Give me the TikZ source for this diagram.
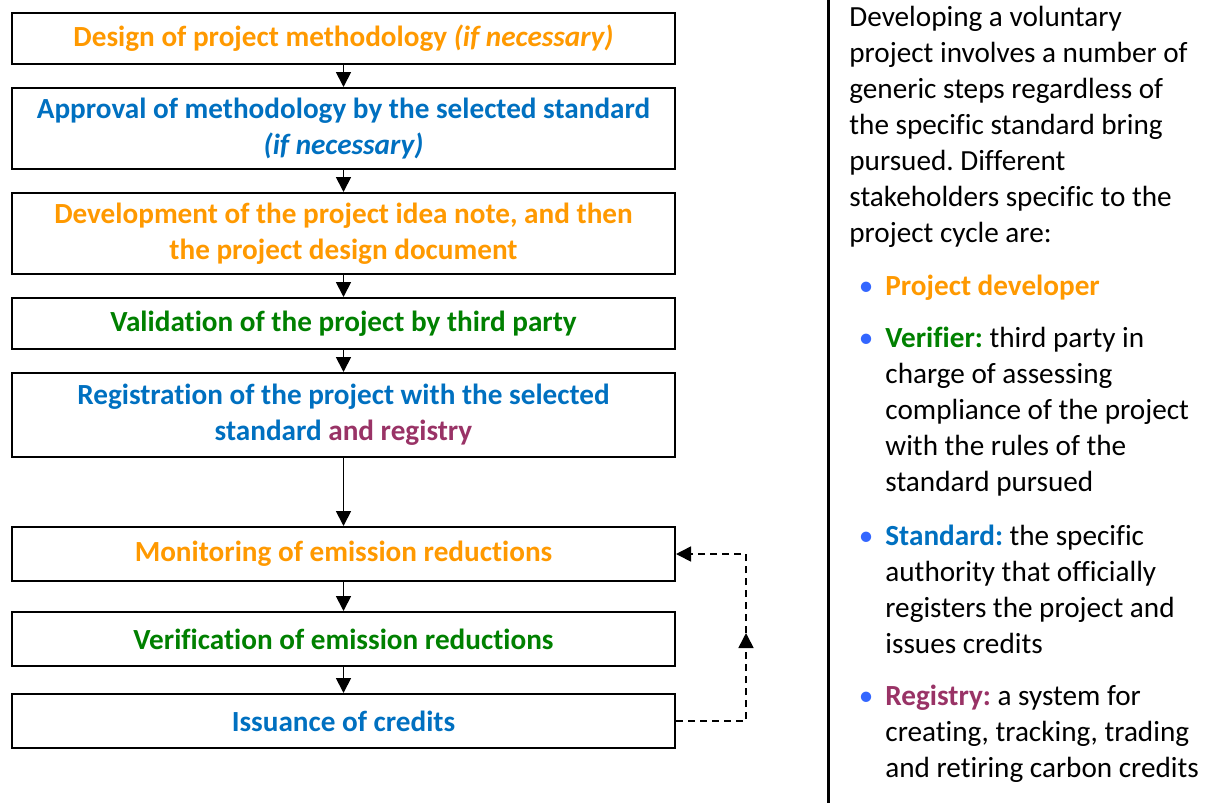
\documentclass[tikz,border=0pt]{standalone}
\usepackage{fontspec}
\setmainfont{Carlito}[Ligatures=NoCommon]
\frenchspacing
\usetikzlibrary{positioning, arrows.meta}
\definecolor{orng}{HTML}{FF9900}
\definecolor{stdblue}{HTML}{0070C0}
\definecolor{vgreen}{HTML}{008000}
\definecolor{regplum}{HTML}{993366}
\definecolor{dotblue}{HTML}{3366FF}
\newcommand{\itm}{\makebox[0pt][r]{\textcolor{dotblue}{\textbullet}\hspace{6pt}}}

\begin{document}
\begin{tikzpicture}[x=0.5pt, y=-0.5pt, node distance=11pt,
        box/.style={draw, line width=1pt, minimum width=331.5pt, minimum height=25.5pt, inner sep=0pt, align=center, font=\fontsize{14.6}{18}\selectfont\bfseries},
        tall/.style={box, minimum height=40.5pt},
        low/.style={box, minimum height=27pt},
        arr/.style={-{Triangle[length=7.5pt,width=7.5pt]}, line width=0.9pt},
        fb/.style={arr, line width=0.8pt, dash pattern=on 3.5pt off 2.5pt},
        side/.style={anchor=north west, inner sep=0pt, align=left, font=\fontsize{14.6}{18}\selectfont}]
        \useasboundingbox (0,0) rectangle (1224,803);

        \node[box, text=orng, anchor=north] at (343.5,12)   (step 1)  {Design of project methodology \textit{(if necessary)}};
        \node[tall, text=stdblue, below=of step 1]         (step 2)  {Approval of methodology by the selected standard\\\textit{(if necessary)}};
        \node[tall, text=orng, below=of step 2]            (step 3)  {Development of the project idea note, and then\\the project design document};
        \node[box, text=vgreen, below=of step 3]           (step 4)  {Validation of the project by third party};
        \node[tall, minimum height=42pt, text=stdblue, below=of step 4] (step 5) {Registration of the project with the selected\\standard \textcolor{regplum}{and registry}};
        \node[low, text=orng, below=34pt of step 5]        (step 6)  {Monitoring of emission reductions};
        \node[low, text=vgreen, below=14.5pt of step 6]    (step 7)  {Verification of emission reductions};
        \node[low, text=stdblue, below=13pt of step 7]     (step 8)  {Issuance of credits};
        \coordinate (turn) at (746,633);

        \draw[arr] (step 1) -- (step 2);
        \draw[arr] (step 2) -- (step 3);
        \draw[arr] (step 3) -- (step 4);
        \draw[arr] (step 4) -- (step 5);
        \draw[arr] (step 5) -- (step 6);
        \draw[arr] (step 6) -- (step 7);
        \draw[arr] (step 7) -- (step 8);
        \draw[fb] (step 8.east) -| (turn);
        \draw[fb] (turn) |- (step 6.east);

        \draw[line width=1.5pt] (828,0) -- (828,803);

        \node[side] at (849,6)   (intro)     {Developing a voluntary\\project involves a number of\\generic steps regardless of\\the specific standard bring\\pursued. Different\\stakeholders specific to the\\project cycle are:};
        \node[side] at (885,275) (developer) {\itm\textcolor{orng}{\bfseries Project developer}};
        \node[side] at (885,327) (verifier)  {\itm\textcolor{vgreen}{\bfseries Verifier:} third party in\\charge of assessing\\compliance of the project\\with the rules of the\\standard pursued};
        \node[side] at (885,525) (standard)  {\itm\textcolor{stdblue}{\bfseries Standard:} the specific\\authority that officially\\registers the project and\\issues credits};
        \node[side] at (885,685) (registry)  {\itm\textcolor{regplum}{\bfseries Registry:} a system for\\creating, tracking, trading\\and retiring carbon credits};
    \end{tikzpicture}
\end{document}
